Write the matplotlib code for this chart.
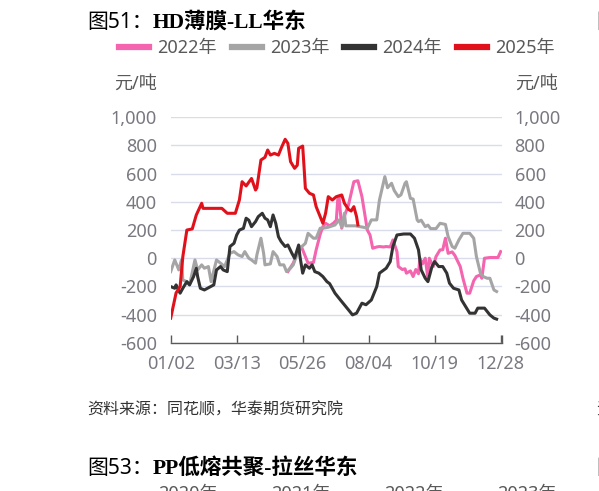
import matplotlib
matplotlib.use('Agg')
import matplotlib.pyplot as plt
from matplotlib.ticker import FuncFormatter, FixedLocator
from matplotlib.lines import Line2D

plt.rcParams['font.family'] = ['Noto Sans', 'Noto Sans CJK SC']

# ---------------- data ----------------
tick_pos = [0, 49, 98, 147, 196, 245]
tick_labels = ['01/02', '03/13', '05/26', '08/04', '10/19', '12/28']
y_ticks = [-600, -400, -200, 0, 200, 400, 600, 800, 1000]

days_2022 = [87, 91, 95, 97, 100, 102, 106, 108, 111, 113, 115, 118, 121, 123, 124,
             125, 127, 129, 132, 134, 136, 139, 142, 144, 146, 148, 150, 153, 155, 158,
             160, 163, 165, 168, 169, 172, 174, 175, 178, 180, 182, 184, 185, 187, 189,
             191, 192, 195, 197, 200, 202, 204, 206, 209, 211, 215, 217, 220, 222, 225,
             227, 230, 231, 233, 237, 243, 245]
vals_2022 = [-95, -35, 59, 83, 12, -35, -30, 59, 170, 224, 248, 230, 250, 270, 413,
             437, 213, 300, 378, 461, 543, 550, 437, 319, 200, 165, 71, 80, 83, 80,
             83, 80, 130, 47, -59, -80, -75, -106, -90, -130, -80, -110, 0, -40, 0,
             -142, 0, -59, 12, 59, 60, 142, 35, 45, 20, -59, -142, -248, -248, -160,
             -130, -118, -142, 0, 5, 5, 47]

days_2023 = [0, 3, 6, 8, 9, 12, 14, 18, 20, 23, 25, 28, 30, 34, 37, 40, 44, 47, 50, 53,
             55, 58, 60, 63, 64, 67, 69, 70, 74, 76, 79, 81, 84, 86, 89, 91, 94, 96, 100,
             102, 106, 108, 111, 113, 117, 122, 125, 127, 129, 130, 133, 137, 143, 146,
             149, 153, 155, 157, 159, 161, 164, 166, 169, 171, 174, 175, 178, 180, 183,
             184, 186, 189, 191, 193, 197, 200, 204, 206, 209, 211, 214, 217, 222, 225,
             227, 230, 232, 235, 237, 240, 242]
vals_2023 = [-95, -12, -83, -12, -154, -166, -189, -12, -83, -47, -71, -59, -166, -12, -35,
             -59, 35, 47, 24, 12, 47, 0, -12, -35, 24, 142, 35, -47, -40, 47, 12, -47, -47,
             -95, -70, -47, 35, 71, 106, 177, 142, 142, 213, 213, 220, 236, 272, 220, 319,
             230, 230, 230, 220, 213, 272, 272, 413, 496, 579, 500, 532, 480, 437, 450,
             532, 543, 425, 420, 272, 260, 270, 224, 235, 210, 210, 248, 240, 153, 83, 71,
             130, 177, 177, 142, 12, -106, -130, -142, -142, -225, -236]

days_2024 = [0, 3, 4, 7, 9, 12, 14, 17, 19, 20, 22, 25, 32, 34, 37, 39, 42, 44, 47, 49,
             51, 54, 56, 58, 60, 63, 65, 68, 70, 72, 74, 76, 78, 80, 82, 85, 87, 90, 92,
             95, 96, 98, 100, 103, 105, 107, 110, 113, 116, 118, 122, 126, 129, 133, 135,
             138, 142, 145, 149, 153, 155, 160, 163, 165, 168, 173, 178, 181, 184, 186,
             189, 191, 194, 196, 199, 202, 205, 207, 210, 214, 216, 219, 222, 226, 228,
             233, 237, 240, 242]
vals_2024 = [-201, -213, -189, -248, -213, -166, -189, -130, -71, -130, -213, -225, -189,
             -83, -59, -83, -95, 83, 106, 165, 200, 212, 284, 270, 224, 260, 295, 319, 284,
             272, 224, 307, 248, 153, 118, 83, 94, 35, 0, 94, 12, -106, -47, -71, -47, -95,
             -106, -130, -166, -180, -248, -296, -331, -378, -402, -390, -319, -330, -296,
             -201, -106, -71, -24, 83, 165, 172, 172, 142, 59, -83, -142, -166, -59, -24,
             -59, -59, -106, -177, -213, -225, -296, -343, -390, -390, -354, -354, -402,
             -425, -432]

days_2025 = [0, 4, 7, 9, 12, 16, 19, 23, 24, 38, 42, 48, 51, 53, 56, 60, 63, 64, 67, 70,
             72, 74, 77, 80, 82, 85, 87, 89, 92, 94, 95, 98, 99, 100, 103, 106, 108, 111,
             113, 115, 117, 120, 123, 127, 129, 132, 134, 136, 138, 139]
vals_2025 = [-425, -246, -201, 11, 200, 208, 307, 390, 354, 354, 319, 319, 413, 543, 513,
             566, 484, 500, 697, 716, 768, 732, 744, 732, 780, 844, 815, 685, 638, 660, 780,
             796, 650, 496, 461, 449, 366, 295, 248, 319, 437, 413, 437, 449, 390, 347, 335,
             366, 295, 236]

series = [
    ('2022年', days_2022, vals_2022, '#F564AE'),
    ('2023年', days_2023, vals_2023, '#A5A5A5'),
    ('2024年', days_2024, vals_2024, '#333333'),
    ('2025年', days_2025, vals_2025, '#E0111B'),
]

# ---------------- figure ----------------
W, H = 599, 491
fig = plt.figure(figsize=(W / 100, H / 100), dpi=100)


def fx(x):
    return x / W


def fy(y):
    return 1 - y / H


ax_l, ax_r, ax_t, ax_b = 170.7, 502.0, 117.3, 342.8
ax = fig.add_axes([fx(ax_l), fy(ax_b), (ax_r - ax_l) / W, (ax_b - ax_t) / H])

for name, d, v, c in series:
    ax.plot(d, v, color=c, lw=2.2, solid_joinstyle='round', label=name)

ax.set_xlim(0, 246)
ax.set_ylim(-600, 1000)
ax.xaxis.set_major_locator(FixedLocator(tick_pos))
ax.xaxis.set_minor_locator(FixedLocator([246]))
ax.set_xticklabels(tick_labels)
ax.yaxis.set_major_locator(FixedLocator(y_ticks))
fmt = FuncFormatter(lambda v, p: f'{v:,.0f}')
ax.yaxis.set_major_formatter(fmt)

for s in ['left', 'right', 'top']:
    ax.spines[s].set_visible(False)
ax.spines['bottom'].set_color('#595959')
ax.spines['bottom'].set_linewidth(1.0)

ax.grid(axis='y', color='#D9DCEA', lw=1.0)
ax.set_axisbelow(True)

tick_col = '#787880'
ax.tick_params(axis='x', which='both', direction='in', length=5.5, width=1.0,
               color='#595959', labelsize=13, labelcolor=tick_col, pad=9)
ax.tick_params(axis='y', length=0, labelsize=13, labelcolor=tick_col, pad=10)

ax2 = ax.twinx()
ax2.set_ylim(-600, 1000)
ax2.yaxis.set_major_locator(FixedLocator(y_ticks))
ax2.yaxis.set_major_formatter(fmt)
ax2.tick_params(axis='y', length=0, labelsize=13, labelcolor=tick_col, pad=9)
for s in ax2.spines.values():
    s.set_visible(False)

# units
fig.text(fx(156.5), fy(83.5), '元/吨', ha='right', va='center', fontsize=13, color='#595959')
fig.text(fx(515.5), fy(83.5), '元/吨', ha='left', va='center', fontsize=13, color='#595959')

# legend
handles = [Line2D([], [], color=c, lw=4.5) for _, _, _, c in series]
fig.legend(handles, [s[0] for s in series], loc='center left',
           bbox_to_anchor=(fx(119), fy(48.5)), ncol=4, frameon=False,
           fontsize=13, labelcolor='#595959', handlelength=1.65,
           handletextpad=0.45, columnspacing=0.85, borderpad=0, borderaxespad=0)

# titles
renderer = fig.canvas.get_renderer()


def title(x, y, a, b):
    t1 = fig.text(fx(x), fy(y), a, ha='left', va='center', fontsize=15, color='black',
                  family=['Noto Sans', 'Noto Sans CJK SC'])
    bb = t1.get_window_extent(renderer=renderer)
    x2 = bb.x1 / fig.dpi / fig.get_figwidth()
    fig.text(x2, fy(y), b, ha='left', va='center', fontsize=15.5, color='black',
             fontweight='bold', family=['Liberation Serif', 'Noto Sans CJK SC'])


title(87, 22, '图51：', 'HD薄膜-LL华东')
title(87, 468, '图53：', 'PP低熔共聚-拉丝华东')

fig.text(fx(87), fy(410), '资料来源：同花顺，华泰期货研究院', ha='left', va='center',
         fontsize=11.5, color='#333333', style='italic')

# partially visible elements at the page edges (cut off in the reference too)
for xx, lab in zip([158, 271, 384, 497], ['2020年', '2021年', '2022年', '2023年']):
    fig.text(fx(xx), fy(484.5), lab, ha='left', va='top', fontsize=13, color='#595959')
fig.text(fx(596), fy(22), '图52：', ha='left', va='center', fontsize=15, color='black')
fig.text(fx(596), fy(468), '图54：', ha='left', va='center', fontsize=15, color='black')
fig.text(fx(596), fy(410), '资料来源', ha='left', va='center', fontsize=11.5, color='#333333')

fig.savefig('out.png', dpi=100)
